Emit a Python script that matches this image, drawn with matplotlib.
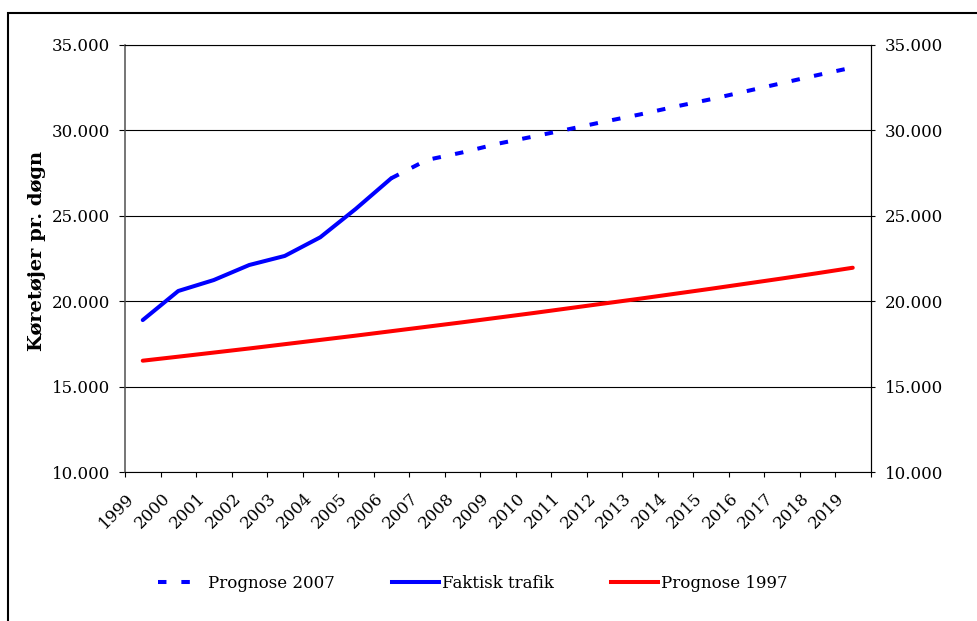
import numpy as np
import matplotlib
matplotlib.use("Agg")
import matplotlib.pyplot as plt
from matplotlib.lines import Line2D
from matplotlib.patches import Rectangle
import matplotlib.transforms as mtransforms

plt.rcParams['font.family'] = ['DejaVu Serif']

years = [str(y) for y in range(1999, 2020)]
faktisk_years = [str(y) for y in range(1999, 2007)]
faktisk = [18900, 20600, 21240, 22120, 22650, 23740, 25400, 27190]
prog2007_years = [str(y) for y in range(2006, 2020)]
prognose_2007 = [27190, 28260, 28700, 29210, 29630, 30060, 30500, 30920,
                 31380, 31810, 32280, 32750, 33220, 33670]
prognose_1997 = [16525, 16760, 17000, 17240, 17490, 17740, 17990, 18250,
                 18510, 18770, 19040, 19310, 19590, 19870, 20150, 20440,
                 20730, 21030, 21330, 21640, 21960]
y_ticks = [10000, 15000, 20000, 25000, 30000, 35000]
y_tick_labels = ['10.000', '15.000', '20.000', '25.000', '30.000', '35.000']
y_label = 'Køretøjer pr. døgn'
legend_labels = ['Prognose 2007', 'Faktisk trafik', 'Prognose 1997']

W, H = 977, 621
fig = plt.figure(figsize=(W / 100, H / 100), dpi=100)
ax = fig.add_axes([125 / W, 1 - 472.3 / H, (870.5 - 125) / W, (472.3 - 44.7) / H])

idx = {y: i for i, y in enumerate(years)}
lw = 2.9
dash = (0, (2.1, 3.6))
l_prog07, = ax.plot([idx[y] for y in prog2007_years], prognose_2007, color='#0000FF',
                    lw=lw, linestyle=dash, dash_capstyle='butt', zorder=3)
l_fakt, = ax.plot([idx[y] for y in faktisk_years], faktisk, color='#0000FF', lw=lw,
                  solid_capstyle='round', solid_joinstyle='round', zorder=4)
l_prog97, = ax.plot(range(len(years)), prognose_1997, color='#FF0000', lw=lw,
                    solid_capstyle='round', zorder=3)

ax.set_xlim(-0.5, len(years) - 0.5)
ax.set_ylim(10000, 35000)
ax.set_yticks(y_ticks)
ax.set_yticklabels(y_tick_labels)
ax.grid(axis='y', color='black', lw=0.8)
ax.set_axisbelow(True)

# x: boundary ticks (major), labels at category centers (minor)
ax.set_xticks(np.arange(-0.5, len(years), 1.0))
ax.set_xticklabels([])
ax.set_xticks(range(len(years)), minor=True)
ax.set_xticklabels(years, minor=True, rotation=45, ha='right', va='top', fontsize=12)
ax.tick_params(axis='x', which='major', length=3.7, width=0.8, direction='out', color='black')
ax.tick_params(axis='x', which='minor', length=0, pad=12.5)
offset = mtransforms.ScaledTranslation(-5 / 100, 0, fig.dpi_scale_trans)
for lab in ax.get_xticklabels(minor=True):
    lab.set_transform(lab.get_transform() + offset)

ax.tick_params(axis='y', which='major', length=4.6, width=0.8, pad=6, labelsize=12,
               color='black')

for s in ['top', 'bottom', 'right']:
    ax.spines[s].set_color('black')
    ax.spines[s].set_linewidth(0.8)
ax.spines['left'].set_color('#505050')
ax.spines['left'].set_linewidth(1.1)

ax2 = ax.twinx()
ax2.set_ylim(ax.get_ylim())
ax2.set_yticks(y_ticks)
ax2.set_yticklabels(y_tick_labels)
ax2.tick_params(axis='y', length=3, width=0.8, pad=7.5, labelsize=12, color='black')
for s in ax2.spines.values():
    s.set_visible(False)
ax2.spines['right'].set_visible(True)
ax2.spines['right'].set_color('black')
ax2.spines['right'].set_linewidth(0.8)

fig.text(37 / W, 1 - 251 / H, y_label, rotation=90, ha='center', va='center',
         fontsize=14, fontweight='bold')

# legend entries placed individually
handles = [
    Line2D([], [], color='#0000FF', lw=lw, linestyle=(0, (2.1, 3.7, 2.1, 12)),
           dash_capstyle='butt'),
    Line2D([], [], color='#0000FF', lw=lw),
    Line2D([], [], color='#FF0000', lw=lw),
]
xs = [158, 391.5, 610.5]
for h, lab, x in zip(handles, legend_labels, xs):
    fig.legend(handles=[h], labels=[lab], loc='center left',
               bbox_to_anchor=(x / W, 1 - 583 / H), frameon=False, borderpad=0,
               borderaxespad=0, handlelength=2.82, handletextpad=0.2, fontsize=12)

fig.patches.append(Rectangle((7.5 / W, -0.1), 1.2, 1.1 - 13 / H, transform=fig.transFigure,
                             fill=False, ec='black', lw=1.5, clip_on=False))

fig.savefig('out.png', dpi=100, facecolor='white')
